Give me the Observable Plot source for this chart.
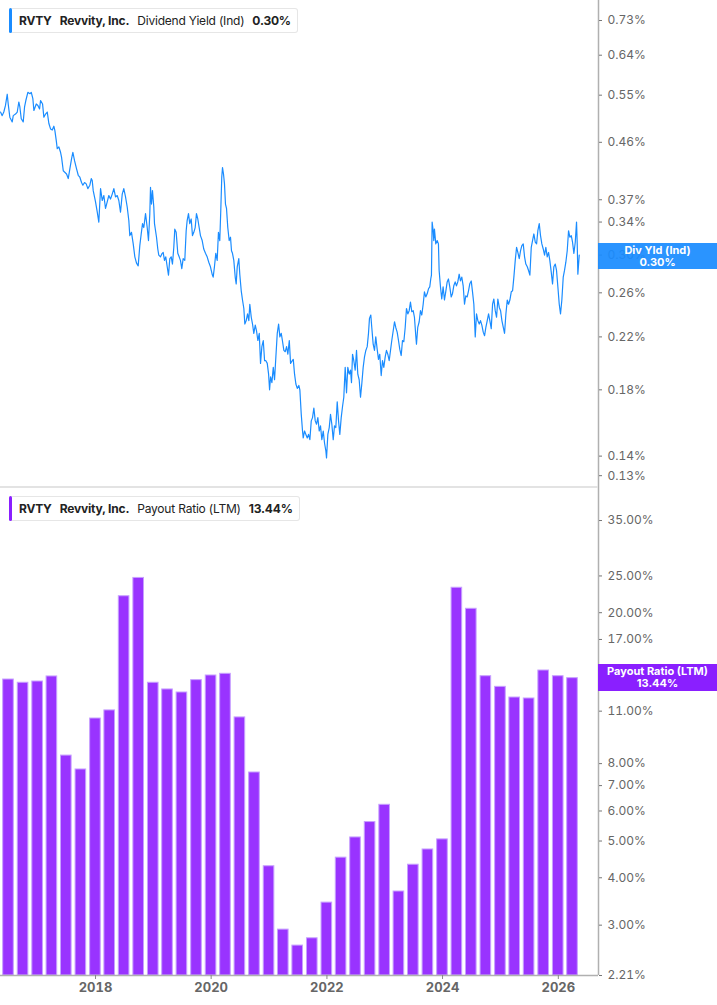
<!DOCTYPE html>
<html><head><meta charset="utf-8">
<script src="https://cdn.jsdelivr.net/npm/d3@7"></script>
<script src="https://cdn.jsdelivr.net/npm/@observablehq/plot@0.6"></script>
<style>
body{margin:0;background:#fff;font-family:Inter,"Noto Sans",sans-serif;}
#wrap{position:relative;width:717px;height:1005px;overflow:hidden;background:#fff;}
.panel{position:absolute;left:0;}
.legend{position:absolute;left:10px;height:25px;display:flex;align-items:center;background:#fff;border:1px solid #e6e6e6;border-left:none;border-radius:3px;font-size:12px;letter-spacing:-0.2px;color:#222;padding-right:6px;box-sizing:border-box;z-index:3}
.legend .acc{width:3px;height:25px;border-radius:2px;margin-right:7px;margin-left:-1px}
.legend b{font-weight:700;margin-right:8px}
.legend b.last{margin-right:0}
.legend span{margin-right:8px}
.tag{position:absolute;left:598px;width:119px;color:#fff;font-weight:700;font-size:11px;line-height:12px;text-align:center;padding:1px 0;box-sizing:border-box;z-index:3}
.sep{position:absolute;left:0;top:486px;width:598px;height:2px;background:#e3e3e3;z-index:2}
</style>
</head><body>
<div id="wrap">
  <div class="legend" style="top:8px"><div class="acc" style="background:#1a8cff"></div><b>RVTY</b><b>Revvity, Inc.</b><span>Dividend Yield (Ind)</span><b class="last">0.30%</b></div>
  <div class="legend" style="top:496px"><div class="acc" style="background:#8a1fff"></div><b>RVTY</b><b>Revvity, Inc.</b><span>Payout Ratio (LTM)</span><b class="last">13.44%</b></div>
  <div class="sep"></div>
</div>
<script>
// ---------- Dividend yield (Ind), % — decimal years ----------
const yieldYears = [
2016.358,2016.387,2016.415,2016.444,2016.474,2016.491,2016.519,2016.560,2016.578,2016.617,
2016.647,2016.674,2016.692,2016.716,2016.750,2016.773,2016.795,2016.830,2016.865,2016.889,
2016.916,2016.934,2016.975,2017.003,2017.032,2017.049,2017.084,2017.106,2017.136,2017.165,
2017.193,2017.222,2017.252,2017.279,2017.297,2017.321,2017.338,2017.366,2017.395,2017.412,
2017.442,2017.464,2017.499,2017.528,2017.556,2017.585,2017.608,2017.637,2017.672,2017.701,
2017.729,2017.758,2017.781,2017.810,2017.839,2017.867,2017.902,2017.926,2017.943,2017.960,
2018.000,2018.030,2018.057,2018.087,2018.116,2018.144,2018.173,2018.202,2018.230,2018.259,
2018.289,2018.317,2018.346,2018.375,2018.403,2018.432,2018.462,2018.489,2018.519,2018.548,
2018.576,2018.593,2018.622,2018.652,2018.680,2018.709,2018.738,2018.766,2018.790,2018.813,
2018.835,2018.865,2018.894,2018.916,2018.939,2018.951,2018.968,2018.985,2019.008,2019.020,
2019.055,2019.077,2019.094,2019.124,2019.153,2019.170,2019.193,2019.215,2019.240,2019.262,
2019.285,2019.309,2019.331,2019.354,2019.371,2019.395,2019.423,2019.447,2019.469,2019.492,
2019.516,2019.544,2019.568,2019.585,2019.608,2019.630,2019.655,2019.677,2019.700,2019.724,
2019.746,2019.769,2019.793,2019.815,2019.845,2019.872,2019.902,2019.931,2019.959,2019.988,
2020.017,2020.035,2020.057,2020.080,2020.104,2020.126,2020.149,2020.166,2020.183,2020.196,
2020.213,2020.230,2020.247,2020.265,2020.287,2020.311,2020.334,2020.351,2020.368,2020.391,
2020.415,2020.432,2020.450,2020.477,2020.494,2020.519,2020.541,2020.564,2020.581,2020.605,
2020.628,2020.650,2020.667,2020.692,2020.714,2020.736,2020.761,2020.783,2020.806,2020.830,
2020.852,2020.875,2020.899,2020.922,2020.944,2020.968,2020.991,2021.008,2021.025,2021.048,
2021.072,2021.094,2021.117,2021.141,2021.164,2021.186,2021.210,2021.233,2021.255,2021.279,
2021.302,2021.324,2021.349,2021.371,2021.400,2021.418,2021.440,2021.463,2021.487,2021.514,
2021.532,2021.556,2021.578,2021.590,2021.613,2021.636,2021.660,2021.682,2021.705,2021.729,
2021.751,2021.774,2021.798,2021.820,2021.843,2021.867,2021.889,2021.912,2021.936,2021.959,
2021.981,2021.993,2022.016,2022.040,2022.062,2022.085,2022.109,2022.131,2022.154,2022.178,
2022.201,2022.223,2022.247,2022.270,2022.292,2022.316,2022.339,2022.361,2022.386,2022.408,
2022.425,2022.443,2022.465,2022.489,2022.512,2022.534,2022.558,2022.581,2022.603,2022.627,
2022.650,2022.673,2022.697,2022.719,2022.736,2022.759,2022.776,2022.800,2022.823,2022.845,
2022.869,2022.892,2022.914,2022.939,2022.961,2022.984,2023.008,2023.030,2023.053,2023.077,
2023.100,2023.122,2023.146,2023.169,2023.191,2023.215,2023.238,2023.260,2023.285,2023.307,
2023.330,2023.354,2023.376,2023.399,2023.423,2023.445,2023.468,2023.492,2023.514,2023.537,
2023.549,2023.571,2023.596,2023.618,2023.641,2023.665,2023.687,2023.710,2023.734,2023.757,2023.779,
2023.796,2023.808,2023.820,2023.838,2023.848,2023.860,2023.883,2023.907,2023.929,
2023.941,2023.964,2023.986,2024.010,2024.033,2024.055,2024.080,2024.102,2024.125,2024.149,
2024.171,2024.194,2024.218,2024.240,2024.263,2024.287,2024.309,2024.332,2024.356,2024.379,
2024.401,2024.425,2024.448,2024.470,2024.495,2024.517,2024.540,2024.564,2024.586,2024.609,
2024.633,2024.655,2024.678,2024.702,2024.725,2024.747,2024.771,2024.794,2024.816,2024.840,
2024.863,2024.885,2024.909,2024.932,2024.954,2024.979,2025.001,2025.024,2025.048,2025.070,
2025.093,2025.117,2025.139,2025.162,2025.186,2025.209,2025.231,2025.255,2025.278,2025.300,
2025.324,2025.347,2025.369,2025.393,2025.416,2025.438,2025.463,2025.485,2025.508,2025.532,
2025.554,2025.577,2025.601,2025.624,2025.646,2025.670,2025.692,2025.715,2025.739,2025.762,
2025.784,2025.808,2025.831,2025.853,2025.878,2025.900,2025.923,2025.947,2025.969,2025.992,
2026.016,2026.038,2026.061,2026.085,2026.107,2026.130,2026.154,2026.177,2026.199,2026.224,
2026.246,2026.269,2026.293,2026.315,2026.327,2026.338,2026.362
];
const yieldValues = [
0.516,0.509,0.516,0.529,0.552,0.532,0.506,0.497,0.509,0.512,
0.516,0.536,0.526,0.503,0.497,0.526,0.539,0.556,0.553,0.556,
0.543,0.519,0.532,0.529,0.522,0.539,0.532,0.506,0.512,0.516,
0.494,0.484,0.482,0.489,0.481,0.463,0.449,0.452,0.443,0.435,
0.413,0.411,0.408,0.401,0.416,0.432,0.443,0.429,0.416,0.406,
0.403,0.395,0.391,0.395,0.393,0.386,0.391,0.401,0.398,0.383,
0.367,0.353,0.340,0.386,0.369,0.376,0.358,0.367,0.376,0.371,
0.378,0.386,0.374,0.376,0.369,0.353,0.378,0.386,0.374,0.360,
0.342,0.323,0.327,0.313,0.298,0.291,0.288,0.311,0.325,0.338,
0.333,0.351,0.333,0.317,0.351,0.388,0.364,0.383,0.360,0.338,
0.321,0.307,0.300,0.298,0.302,0.303,0.294,0.298,0.287,0.278,
0.296,0.298,0.290,0.309,0.331,0.327,0.302,0.298,0.294,0.285,
0.296,0.294,0.329,0.342,0.351,0.338,0.344,0.323,0.327,0.333,
0.351,0.344,0.333,0.323,0.317,0.307,0.302,0.298,0.292,0.287,
0.279,0.276,0.287,0.302,0.294,0.327,0.317,0.355,0.403,0.418,
0.408,0.393,0.364,0.358,0.333,0.317,0.321,0.305,0.302,0.294,
0.276,0.269,0.287,0.296,0.279,0.262,0.253,0.245,0.231,0.234,
0.240,0.234,0.249,0.237,0.231,0.223,0.230,0.225,0.217,0.223,
0.199,0.212,0.217,0.201,0.201,0.199,0.191,0.180,0.189,0.185,
0.196,0.187,0.204,0.223,0.231,0.220,0.223,0.216,0.209,0.208,
0.212,0.206,0.217,0.199,0.201,0.202,0.191,0.184,0.181,0.183,
0.180,0.164,0.154,0.150,0.154,0.152,0.150,0.152,0.149,0.160,
0.162,0.168,0.160,0.158,0.162,0.154,0.157,0.149,0.154,0.147,
0.143,0.139,0.152,0.156,0.164,0.158,0.149,0.157,0.156,0.172,
0.160,0.152,0.162,0.169,0.175,0.196,0.178,0.196,0.191,0.194,
0.185,0.206,0.201,0.194,0.209,0.191,0.187,0.175,0.184,0.196,
0.204,0.209,0.212,0.223,0.236,0.239,0.228,0.214,0.209,0.220,
0.210,0.202,0.206,0.190,0.201,0.196,0.204,0.209,0.206,0.201,
0.209,0.217,0.225,0.233,0.228,0.224,0.217,0.210,0.205,0.217,
0.216,0.228,0.245,0.240,0.243,0.251,0.242,0.243,0.237,0.221,
0.214,0.228,0.233,0.243,0.239,0.249,0.261,0.256,0.259,0.264,0.266,
0.274,0.278,0.340,0.329,0.317,0.331,0.313,0.317,0.313,
0.283,0.266,0.254,0.266,0.253,0.261,0.271,0.274,0.266,0.256,
0.259,0.267,0.271,0.267,0.271,0.279,0.272,0.276,0.267,0.249,
0.257,0.256,0.262,0.269,0.272,0.261,0.249,0.220,0.240,0.234,
0.231,0.234,0.230,0.224,0.221,0.228,0.234,0.240,0.234,0.227,
0.249,0.254,0.243,0.237,0.254,0.246,0.243,0.234,0.228,0.223,
0.240,0.253,0.249,0.253,0.261,0.262,0.276,0.294,0.309,0.303,
0.296,0.305,0.311,0.313,0.298,0.290,0.287,0.283,0.278,0.309,
0.317,0.325,0.315,0.313,0.329,0.338,0.323,0.313,0.307,0.300,
0.309,0.298,0.303,0.294,0.281,0.269,0.287,0.290,0.283,0.266,
0.249,0.240,0.253,0.276,0.283,0.292,0.305,0.329,0.321,0.323,
0.315,0.302,0.315,0.340,0.313,0.279,0.300
];

// ---------- Payout ratio (LTM), % — quarterly ----------
const payoutDates = [
"2016-06-30","2016-09-30","2016-12-31","2017-03-31","2017-06-30","2017-09-30","2017-12-31","2018-03-31",
"2018-06-30","2018-09-30","2018-12-31","2019-03-31","2019-06-30","2019-09-30","2019-12-31","2020-03-31",
"2020-06-30","2020-09-30","2020-12-31","2021-03-31","2021-06-30","2021-09-30","2021-12-31","2022-03-31",
"2022-06-30","2022-09-30","2022-12-31","2023-03-31","2023-06-30","2023-09-30","2023-12-31","2024-03-31",
"2024-06-30","2024-09-30","2024-12-31","2025-03-31","2025-06-30","2025-09-30","2025-12-31","2026-03-31"
];
const payoutValues = [
13.33,13.07,13.17,13.58,8.40,7.72,10.52,11.05,
22.1,24.7,13.07,12.55,12.32,13.28,13.66,13.80,
10.59,7.58,4.29,2.92,2.65,2.77,3.44,4.52,
5.11,5.61,6.23,3.68,4.33,4.75,5.05,23.27,
20.48,13.60,12.75,11.95,11.88,14.08,13.60,13.44
];

// ---------- tick labels ----------
const yieldTicks = [0.73,0.64,0.55,0.46,0.37,0.34,0.30,0.26,0.22,0.18,0.14,0.13];
const payoutTicks = [35,25,20,17,11,8,7,6,5,4,3,2.21];
const yearTicks = ["2018","2020","2022","2024","2026"];

function decToDate(t){
  const y = Math.floor(t);
  const a = Date.UTC(y,0,1), b = Date.UTC(y+1,0,1);
  return new Date(a + (t - y) * (b - a));
}
const xDomain = [decToDate(2016.358), decToDate(2026.695)];
const yieldData = yieldYears.map((t,i) => ({date: decToDate(t), value: yieldValues[i]}));
const payoutData = payoutDates.map((s,i) => ({date: new Date(s + "T00:00:00Z"), value: payoutValues[i]}));
const baseline = payoutTicks[payoutTicks.length - 1];

const axisColor = "#b0b0b0";
const common = {
  width: 717, marginLeft: 0, marginRight: 119,
  style: {fontFamily: "Inter, 'Noto Sans', sans-serif", fontSize: "12px", color: "#666", background: "transparent", overflow: "visible"}
};

const topChart = Plot.plot({
  ...common,
  height: 487, marginTop: 0, marginBottom: 0,
  x: {type: "utc", domain: xDomain, axis: null},
  y: {type: "log", domain: [0.1243, 0.7875], axis: null},
  marks: [
    Plot.ruleX([xDomain[1]], {stroke: axisColor, strokeWidth: 1.5}),
    Plot.axisY({anchor: "right", ticks: yieldTicks, tickFormat: d => d.toFixed(2) + "%", tickSize: 3, tickPadding: 6, label: null, stroke: "#777", fill: "#666", fontSize: 12}),
    Plot.lineY(yieldData, {x: "date", y: "value", stroke: "#1a8cff", strokeWidth: 1.2})
  ]
});

const botChart = Plot.plot({
  ...common,
  height: 518, marginTop: 0, marginBottom: 30,
  x: {type: "utc", domain: xDomain, axis: null},
  y: {type: "log", domain: [baseline, 42.77], axis: null},
  marks: [
    Plot.rectY(payoutData, {
      x1: d => d3.utcDay.offset(d.date, -45),
      x2: d => d3.utcDay.offset(d.date, 46),
      y1: d => baseline, y2: "value",
      insetLeft: 1.9, insetRight: 1.9,
      fill: "#9933ff", stroke: "#c7a0ff", strokeWidth: 1
    }),
    Plot.ruleX([xDomain[1]], {stroke: axisColor, strokeWidth: 1.5}),
    Plot.ruleY([baseline], {stroke: axisColor, strokeWidth: 1.5}),
    Plot.axisY({anchor: "right", ticks: payoutTicks, tickFormat: d => d.toFixed(2) + "%", tickSize: 3, tickPadding: 6, label: null, stroke: "#777", fill: "#666", fontSize: 12}),
    Plot.axisX({anchor: "bottom", ticks: yearTicks.map(y => new Date(Date.UTC(+y,0,1))), tickFormat: d3.utcFormat("%Y"), tickSize: 4, tickPadding: 3, label: null, stroke: "#888", fill: "#666", fontSize: 13, fontWeight: "bold"})
  ]
});

const wrap = document.getElementById("wrap");
topChart.classList.add("panel"); topChart.style.top = "0px";
botChart.classList.add("panel"); botChart.style.top = "487px";
wrap.appendChild(topChart);
wrap.appendChild(botChart);

// value tags on the right axis, positioned via the scales
function addTag(y, bg, line1, line2, h, alpha){
  const d = document.createElement("div");
  d.className = "tag";
  d.style.background = bg;
  d.style.opacity = alpha;
  d.style.height = h + "px";
  d.style.top = (y - h/2) + "px";
  d.innerHTML = line1 + "<br>" + line2;
  wrap.appendChild(d);
}
const lastYield = yieldValues[yieldValues.length - 1];
const lastPayout = payoutValues[payoutValues.length - 1];
addTag(topChart.scale("y").apply(lastYield) + 1.5, "#1a8cff", "Div Yld (Ind)", lastYield.toFixed(2) + "%", 26, 0.93);
addTag(487 + botChart.scale("y").apply(lastPayout), "#8a1fff", "Payout Ratio (LTM)", lastPayout.toFixed(2) + "%", 27, 1);
</script>
</body></html>
